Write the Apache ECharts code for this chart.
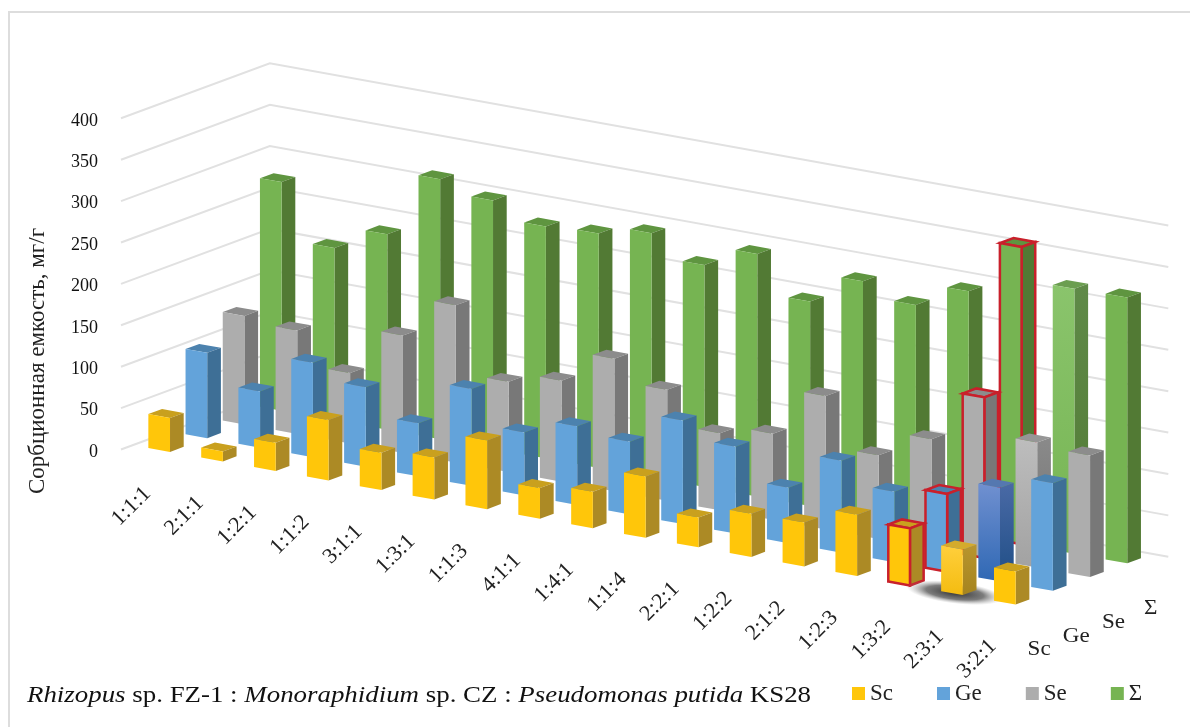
<!DOCTYPE html>
<html>
<head>
<meta charset="utf-8">
<script src="https://cdn.jsdelivr.net/npm/echarts@6/dist/echarts.min.js"></script>
<style>
html, body { margin: 0; padding: 0; background: #fff; }
#graph { width: 1190px; height: 727px; }
</style>
</head>
<body>
<div id="graph"></div>
<script>
var categories = ['1:1:1', '2:1:1', '1:2:1', '1:1:2', '3:1:1', '1:3:1', '1:1:3', '4:1:1', '1:4:1', '1:1:4', '2:2:1', '1:2:2', '2:1:2', '1:2:3', '1:3:2', '2:3:1', '3:2:1'];
var seriesNames = ['Sc', 'Ge', 'Se', 'Σ'];
var yTicks = [0, 50, 100, 150, 200, 250, 300, 350, 400];
var scValues = [41, 12, 34, 73, 45, 51, 83, 37, 44, 74, 36, 52, 53, 74, 69, 55, 40];
var geValues = [103, 68, 114, 96, 64, 117, 76, 95, 88, 125, 105, 67, 111, 85, 94, 113, 130];
var seValues = [131, 125, 85, 142, 190, 109, 122, 160, 134, 93, 104, 161, 101, 132, 194, 151, 147];
var sumValues = [276, 208, 236, 314, 300, 280, 283, 295, 268, 293, 247, 283, 266, 294, 359, 320, 321];

// 3d look: floor is sheared, each series sits one step back
var slope = 0.1806;
var stepX = 37.2;
var stepY = -13.75;
var redCat = 14;      // bars with red outline
var selectedCat = 15; // bars with lighter selection look
var serif = '"Liberation Serif", "Times New Roman", serif';

var colors = [
    { front: '#FFC60A', side: '#AC8A25', top: '#C9A01E' },
    { front: '#63A3DA', side: '#3E6F96', top: '#4C82AE' },
    { front: '#ADADAD', side: '#787878', top: '#8C8C8C' },
    { front: '#76B452', side: '#527A34', top: '#5F9540' }
];
var selectedColors = [
    { front: ['#FFCF3C', '#F4BC10'], side: ['#B8952E', '#A5841F'], top: '#D4AB2C' },
    { front: ['#7090D0', '#2F68B4'], side: ['#4A6AA6', '#1F4E86'], top: '#5578B0' },
    { front: ['#BDBDBD', '#A2A2A2'], side: ['#8A8A8A', '#707070'], top: '#969696' },
    { front: ['#8AC46C', '#76B452'], side: ['#5F8A48', '#527A34'], top: '#6B9E50' }
];

var dom = document.getElementById('graph');
var myChart = echarts.init(dom);

function project(api, i, v, catPos, serPos) {
    var c = api.coord([i, v]);
    var band = api.size([1, 0])[0];
    var left = api.coord([0, 0])[0] - band / 2;
    var x = c[0] - band / 2 + catPos * band;
    return [x + serPos * stepX, c[1] + (x - left) * slope + serPos * stepY];
}

function vGrad(pair) {
    return new echarts.graphic.LinearGradient(0, 0, 0, 1, [
        { offset: 0, color: pair[0] },
        { offset: 1, color: pair[1] }
    ]);
}

function barRenderer(s) {
    return function (params, api) {
        var i = api.value(0);
        var v = api.value(1);
        var c0 = 0.295, c1 = 0.705, s0 = s + 0.316, s1 = s + 0.684;
        var a = project(api, i, 0, c0, s0);
        var b = project(api, i, 0, c1, s0);
        var d = project(api, i, 0, c1, s1);
        var e = project(api, i, v, c0, s0);
        var f = project(api, i, v, c1, s0);
        var g = project(api, i, v, c1, s1);
        var h = project(api, i, v, c0, s1);
        var col = colors[s];
        var front = col.front, side = col.side, top = col.top;
        if (i === selectedCat) {
            front = vGrad(selectedColors[s].front);
            side = vGrad(selectedColors[s].side);
            top = selectedColors[s].top;
        }
        var stroke = i === redCat ? '#C9202B' : null;
        var lw = i === redCat ? 2.5 : 0;
        var kids = [];
        if (i === selectedCat && s === 0) {
            // soft shadow under the selected bar
            var mid = project(api, i, 0, 0.5, s + 0.42);
            kids.push({
                type: 'circle',
                x: mid[0] - 1,
                y: mid[1] + 1,
                scaleX: 4.4,
                rotation: -0.12,
                shape: { cx: 0, cy: 0, r: 11 },
                style: {
                    fill: new echarts.graphic.RadialGradient(0.5, 0.5, 0.5, [
                        { offset: 0, color: 'rgba(40,40,40,0.95)' },
                        { offset: 0.6, color: 'rgba(80,80,80,0.75)' },
                        { offset: 1, color: 'rgba(160,160,160,0)' }
                    ])
                }
            });
        }
        kids.push({ type: 'polygon', shape: { points: [e, f, g, h] }, style: { fill: top, stroke: stroke, lineWidth: lw } });
        kids.push({ type: 'polygon', shape: { points: [b, d, g, f] }, style: { fill: side, stroke: stroke, lineWidth: lw } });
        kids.push({ type: 'polygon', shape: { points: [a, b, f, e] }, style: { fill: front, stroke: stroke, lineWidth: lw } });
        return { type: 'group', children: kids };
    };
}

function wallRenderer(params, api) {
    var v = api.value(1);
    var n = categories.length;
    var p0 = project(api, 0, v, 0, 0);
    var p1 = project(api, 0, v, 0, seriesNames.length);
    var p2 = project(api, n - 1, v, 1, seriesNames.length);
    return {
        type: 'polyline',
        shape: { points: [p0, p1, p2] },
        style: { fill: null, stroke: '#E1E1E1', lineWidth: 2 }
    };
}

function catLabelRenderer(params, api) {
    var i = api.value(0);
    var p = project(api, i, 0, 0.5, 0);
    return {
        type: 'text',
        x: p[0] - 16,
        y: p[1] + 52,
        rotation: Math.PI / 4,
        style: { text: categories[i], align: 'center', verticalAlign: 'middle', font: '22px ' + serif, fill: '#222' }
    };
}

function serLabelRenderer(params, api) {
    var s = api.value(0);
    var p = project(api, categories.length - 1, 0, 1, s + 0.5);
    return {
        type: 'text',
        x: p[0] + 1,
        y: p[1] + 45,
        scaleX: 1.1,
        style: { text: seriesNames[s], align: 'center', verticalAlign: 'middle', font: '21px ' + serif, fill: '#222' }
    };
}

function toData(values) {
    return values.map(function (v, i) { return [i, v]; });
}

function barSeries(s, values) {
    return {
        type: 'custom',
        name: seriesNames[s],
        renderItem: barRenderer(s),
        itemStyle: { color: colors[s].front },
        data: toData(values),
        silent: true
    };
}

option = {
    animation: false,
    backgroundColor: '#fff',
    legend: {
        left: 852,
        top: 682,
        icon: 'rect',
        itemWidth: 13,
        itemHeight: 13,
        itemGap: 44,
        padding: 0,
        selectedMode: false,
        data: seriesNames,
        textStyle: { fontFamily: serif, fontSize: 23, color: '#222' }
    },
    grid: { left: 121, top: 118.3, width: 898.5, height: 331.2 },
    xAxis: { type: 'category', data: categories, show: false },
    yAxis: {
        type: 'value',
        min: 0,
        max: 400,
        interval: 50,
        axisLine: { show: false },
        axisTick: { show: false },
        splitLine: { show: false },
        axisLabel: {
            margin: 23,
            formatter: '{a|{value}}',
            rich: { a: { fontFamily: serif, fontSize: 18, color: '#111', padding: [5, 0, 0, 0] } }
        }
    },
    graphic: [
        { type: 'polyline', shape: { points: [[9, 727], [9, 12], [1190, 12]] }, style: { fill: null, stroke: '#DDDDDD', lineWidth: 2 }, silent: true },
        {
            type: 'text',
            x: 38,
            y: 361,
            rotation: Math.PI / 2,
            style: { text: 'Сорбционная емкость, мг/г', align: 'center', verticalAlign: 'middle', font: '23px ' + serif, fill: '#222' },
            silent: true
        },
        {
            type: 'text',
            x: 27,
            y: 696,
            scaleX: 1.12,
            style: {
                text: '{i|Rhizopus} sp. FZ-1 : {i|Monoraphidium} sp. CZ : {i|Pseudomonas putida} KS28',
                align: 'left',
                verticalAlign: 'middle',
                fontFamily: serif,
                fontSize: 24,
                fill: '#111',
                rich: { i: { fontFamily: serif, fontStyle: 'italic', fontSize: 24, fill: '#111' } }
            },
            silent: true
        }
    ],
    series: [
        { type: 'custom', renderItem: wallRenderer, data: yTicks.map(function (v) { return [0, v]; }), silent: true },
        barSeries(3, sumValues),
        barSeries(2, seValues),
        barSeries(1, geValues),
        barSeries(0, scValues),
        { type: 'custom', renderItem: catLabelRenderer, data: categories.map(function (c, i) { return [i, 0]; }), silent: true },
        { type: 'custom', renderItem: serLabelRenderer, data: seriesNames.map(function (c, i) { return [i, 0]; }), silent: true }
    ]
};
myChart.setOption(option, true);
</script>
</body>
</html>
